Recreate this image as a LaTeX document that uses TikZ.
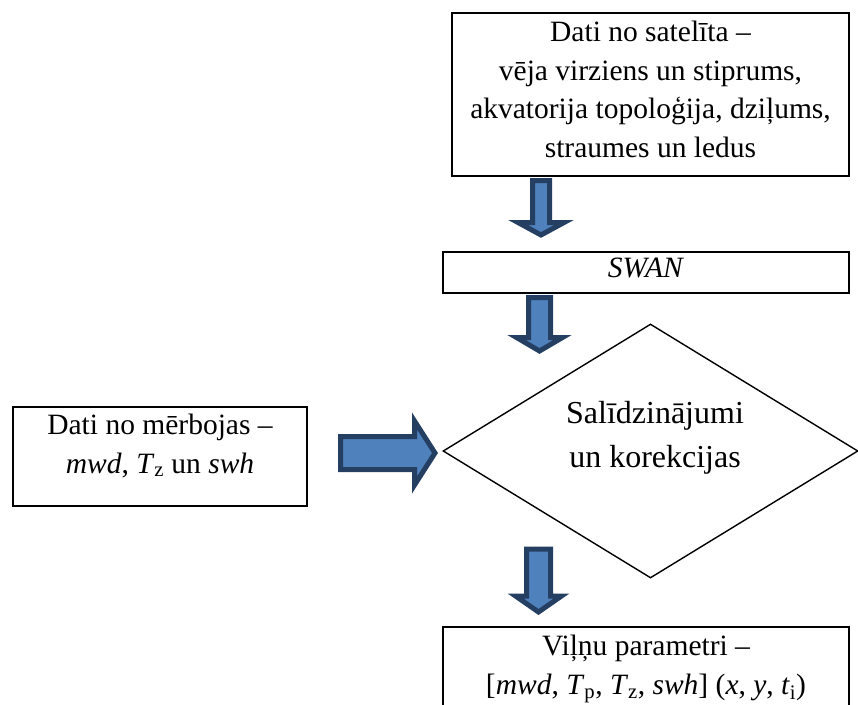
\documentclass[tikz,border=0pt]{standalone}
\usepackage{fontspec}
\setmainfont{Liberation Serif}
\usetikzlibrary{shapes.geometric}
\definecolor{arrowfill}{HTML}{4F81BD}
\definecolor{arrowline}{HTML}{253F63}
\tikzset{
  box/.style={draw, line width=2.2pt, inner sep=0pt},
  txt/.style={align=center, inner sep=0pt, font=\fontsize{29.5}{38.5}\selectfont},
  bigtxt/.style={align=center, inner sep=0pt, font=\fontsize{32}{44}\selectfont},
  blockarrow/.style={fill=arrowfill, draw=arrowline, line width=5pt, line join=miter},
}
\begin{document}
\begin{tikzpicture}[x=1pt, y=-1pt]
\useasboundingbox (0,0) rectangle (858,704);
\begin{scope}
\clip (0,0) rectangle (858,704);

% boxes
\node[box, minimum width=397pt, minimum height=163pt] (sat) at (650.5,94.5) {};
\node[txt] (sattext) at (650.5,89.5)
  {Dati no satelīta –\\vēja virziens un stiprums,\\akvatorija topoloģija, dziļums,\\straumes un ledus};

\node[box, minimum width=406pt, minimum height=41pt] (swan) at (646,272.5) {};
\node[txt] (swantext) at (646,267.5) {\textit{SWAN}};

\node[box, minimum width=294pt, minimum height=99pt] (buoy) at (160,456.5) {};
\node[txt] (buoytext) at (160,446)
  {Dati no mērbojas –\\\textit{mwd}, \textit{T}\textsubscript{z} un \textit{swh}};

\node[draw, diamond, line width=1.4pt, inner sep=0pt, minimum width=415pt, minimum height=254pt] (cmp) at (650.5,451) {};
\node[bigtxt] (cmptext) at (655,437.5) {Salīdzinājumi\\un korekcijas};

\node[box, minimum width=406pt, minimum height=110pt] (waves) at (646,682) {};
\node[txt] (wavestext) at (646,669)
  {Viļņu parametri –\\{}[\textit{mwd}, \textit{T}\textsubscript{p}, \textit{T}\textsubscript{z}, \textit{swh}] (\textit{x}, \textit{y}, \textit{t}\textsubscript{i})};

% block arrows
\draw[blockarrow] (532.5,180.5) -- (549.5,180.5) -- (549.5,222.5) -- (564,222.5) -- (541,235) -- (518,222.5) -- (532.5,222.5) -- cycle;
\draw[blockarrow] (528.5,297.5) -- (550.5,297.5) -- (550.5,337.5) -- (562.5,337.5) -- (539.5,351) -- (516.5,337.5) -- (528.5,337.5) -- cycle;
\draw[blockarrow] (526.5,549) -- (550.5,549) -- (550.5,596) -- (561.5,596) -- (538.5,612) -- (515.5,596) -- (526.5,596) -- cycle;
\draw[blockarrow] (340.5,436.5) -- (414.5,436.5) -- (414.5,421) -- (435,453) -- (414.5,485) -- (414.5,469.5) -- (340.5,469.5) -- cycle;
\end{scope}
\end{tikzpicture}
\end{document}
